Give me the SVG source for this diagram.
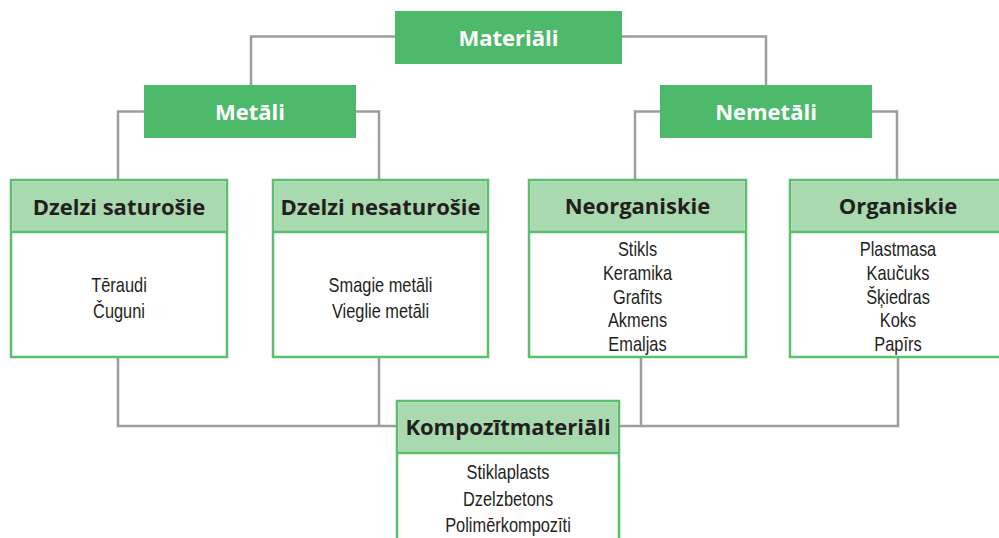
<svg xmlns="http://www.w3.org/2000/svg" width="999" height="538" viewBox="0 0 999 538">
<style>
.top{fill:#4cb96b}
.hdr{fill:#a9d9ae}
.box{fill:#fff;stroke:#5bbf6e;stroke-width:2.5}
.sep{stroke:#5bbf6e;stroke-width:2.5}
.con{fill:none;stroke:#9d9d9d;stroke-width:2.5}
.tw{font-family:"Open Sans","Liberation Sans",sans-serif;font-weight:bold;font-size:22px;fill:#fff;text-anchor:middle}
.th{font-family:"Open Sans","Liberation Sans",sans-serif;font-weight:bold;font-size:22px;fill:#231f20;text-anchor:middle}
.it{font-family:"Liberation Sans",Arial,sans-serif;font-size:20px;fill:#231f20;text-anchor:middle}
</style>
<rect width="999" height="538" fill="#fff"/>
<g id="connectors">
<path class="con" d="M395,36.5 H251 V85"/>
<path class="con" d="M622,36.5 H766 V85"/>
<path class="con" d="M144,111.5 H118 V180"/>
<path class="con" d="M356,111.5 H379 V180"/>
<path class="con" d="M660,111.5 H635 V180"/>
<path class="con" d="M872,111.5 H897 V180"/>
<path class="con" d="M118,358 V426 H396"/>
<path class="con" d="M379,358 V426"/>
<path class="con" d="M620,426 H898 V358"/>
<path class="con" d="M641,358 V426"/>
</g>
<g id="materiali">
<rect class="top" x="395" y="11" width="227" height="53"/>
<text class="tw" x="508.5" y="45.5">Materiāli</text>
</g>
<g id="metali">
<rect class="top" x="144" y="85" width="212" height="53"/>
<text class="tw" x="250" y="119.5">Metāli</text>
</g>
<g id="nemetali">
<rect class="top" x="660" y="85" width="212" height="53"/>
<text class="tw" x="766" y="120">Nemetāli</text>
</g>
<g id="dzelzi-saturosie">
<rect class="box" x="11" y="180" width="216" height="177"/>
<rect class="hdr" x="12.25" y="181.25" width="213.5" height="50.75"/>
<line class="sep" x1="11" y1="232" x2="227" y2="232"/>
<text class="th" x="119" y="215">Dzelzi saturošie</text>
<text class="it" transform="translate(119,291.5) scale(0.82,1)">Tēraudi</text>
<text class="it" transform="translate(119,318) scale(0.82,1)">Čuguni</text>
</g>
<g id="dzelzi-nesaturosie">
<rect class="box" x="273" y="180" width="215" height="177"/>
<rect class="hdr" x="274.25" y="181.25" width="212.5" height="50.75"/>
<line class="sep" x1="273" y1="232" x2="488" y2="232"/>
<text class="th" x="380.5" y="215">Dzelzi nesaturošie</text>
<text class="it" transform="translate(380.5,291.5) scale(0.82,1)">Smagie metāli</text>
<text class="it" transform="translate(380.5,318) scale(0.82,1)">Vieglie metāli</text>
</g>
<g id="neorganiskie">
<rect class="box" x="529" y="180" width="217" height="177"/>
<rect class="hdr" x="530.25" y="181.25" width="214.5" height="50.75"/>
<line class="sep" x1="529" y1="232" x2="746" y2="232"/>
<text class="th" x="637.5" y="214">Neorganiskie</text>
<text class="it" transform="translate(637.5,256) scale(0.82,1)">Stikls</text>
<text class="it" transform="translate(637.5,280) scale(0.82,1)">Keramika</text>
<text class="it" transform="translate(637.5,303.5) scale(0.82,1)">Grafīts</text>
<text class="it" transform="translate(637.5,327) scale(0.82,1)">Akmens</text>
<text class="it" transform="translate(637.5,351) scale(0.82,1)">Emaljas</text>
</g>
<g id="organiskie">
<rect class="box" x="790" y="180" width="218" height="177"/>
<rect class="hdr" x="791.25" y="181.25" width="215.5" height="50.75"/>
<line class="sep" x1="790" y1="232" x2="1008" y2="232"/>
<text class="th" x="898" y="214">Organiskie</text>
<text class="it" transform="translate(898,256) scale(0.82,1)">Plastmasa</text>
<text class="it" transform="translate(898,280) scale(0.82,1)">Kaučuks</text>
<text class="it" transform="translate(898,303.5) scale(0.82,1)">Šķiedras</text>
<text class="it" transform="translate(898,327) scale(0.82,1)">Koks</text>
<text class="it" transform="translate(898,351) scale(0.82,1)">Papīrs</text>
</g>
<g id="kompozitmateriali">
<rect class="box" x="397" y="401" width="222" height="160"/>
<rect class="hdr" x="398.25" y="402.25" width="219.5" height="50.75"/>
<line class="sep" x1="397" y1="453" x2="619" y2="453"/>
<text class="th" x="508" y="435">Kompozītmateriāli</text>
<text class="it" transform="translate(508,479) scale(0.82,1)">Stiklaplasts</text>
<text class="it" transform="translate(508,505.5) scale(0.82,1)">Dzelzbetons</text>
<text class="it" transform="translate(508,532) scale(0.82,1)">Polimērkompozīti</text>
</g>
</svg>
